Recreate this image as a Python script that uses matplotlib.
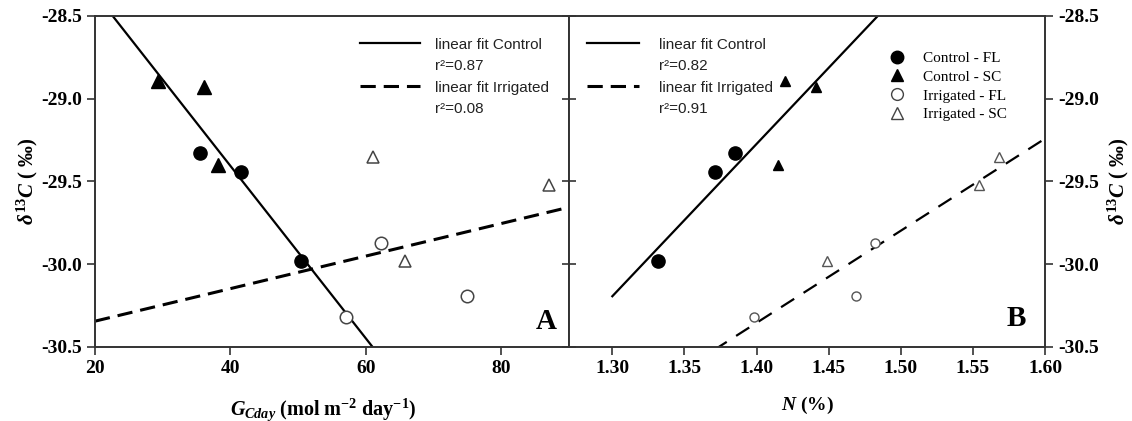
import numpy as np
import matplotlib
matplotlib.use("Agg")
import matplotlib.pyplot as plt
from matplotlib.lines import Line2D

plt.rcParams['font.family'] = ['Liberation Serif', 'DejaVu Serif']
plt.rcParams['mathtext.fontset'] = 'custom'
plt.rcParams['mathtext.rm'] = 'Liberation Serif:bold'
plt.rcParams['mathtext.it'] = 'Liberation Serif:bold:italic'
plt.rcParams['mathtext.bf'] = 'Liberation Serif:bold'

# delta13C per sample group, shared by both panels
ctrl_fl_d13c = [-29.33, -29.44, -29.98]
ctrl_sc_d13c = [-28.89, -28.93, -29.40]
irr_fl_d13c = [-30.32, -29.87, -30.19]
irr_sc_d13c = [-29.35, -29.98, -29.52]

# panel A: G_Cday
ctrl_fl_g = [35.5, 41.6, 50.4]
ctrl_sc_g = [29.3, 36.1, 38.2]
irr_fl_g = [57.0, 62.3, 74.9]
irr_sc_g = [61.1, 65.8, 87.1]

# panel B: N (%)
ctrl_fl_n = [1.385, 1.371, 1.332]
ctrl_sc_n = [1.420, 1.441, 1.415]
irr_fl_n = [1.398, 1.482, 1.469]
irr_sc_n = [1.568, 1.449, 1.554]

r2_a = ["0.87", "0.08"]
r2_b = ["0.82", "0.91"]

yticks = [-28.5, -29.0, -29.5, -30.0, -30.5]
SPINE = '#333333'
SANS = ['Liberation Sans', 'DejaVu Sans']


def fit(xs, ys, xr):
    k, b = np.polyfit(xs, ys, 1)
    xr = np.asarray(xr)
    return xr, k * xr + b


def style(ax):
    for s in ax.spines.values():
        s.set_color(SPINE); s.set_linewidth(1.4)
    ax.set_ylim(-30.5, -28.5)
    ax.set_yticks(yticks)
    ax.set_yticklabels([f"{t:.1f}" for t in yticks], fontsize=14, fontweight='bold')
    ax.tick_params(axis='both', direction='out', length=6, width=1.2, color=SPINE, top=False)
    for lb in ax.get_xticklabels():
        lb.set_fontweight('bold'); lb.set_fontsize(14)


def line_legend(ax, x0, r2, hl, pad):
    hs = [Line2D([], [], color='k', lw=1.6),
          Line2D([], [], color='none'),
          Line2D([], [], color='k', lw=2.2, ls=(0, (5, 2.6))),
          Line2D([], [], color='none')]
    labs = ["linear fit Control", "r²=" + r2[0], "linear fit Irrigated", "r²=" + r2[1]]
    leg = ax.legend(hs, labs, loc='upper left', bbox_to_anchor=(x0, 0.935), frameon=False,
                    borderpad=0, borderaxespad=0, handlelength=hl, handletextpad=pad,
                    labelspacing=0.5, prop={'family': SANS, 'size': 11})
    for t in leg.get_texts():
        t.set_color('#222222')
    return leg


fig = plt.figure(figsize=(11.32, 4.21), dpi=100)
axA = fig.add_axes([0.0839, 0.1758, 0.4187, 0.7862])
axB = fig.add_axes([0.5027, 0.1758, 0.4205, 0.7862])

# ---- panel A
xa = [20, 90]
axA.plot(*fit(ctrl_fl_g + ctrl_sc_g, ctrl_fl_d13c + ctrl_sc_d13c, xa), color='k', lw=1.6)
axA.plot(*fit(irr_fl_g + irr_sc_g, irr_fl_d13c + irr_sc_d13c, xa), color='k', lw=2.2, ls=(0, (5, 2.6)))
axA.plot(ctrl_fl_g, ctrl_fl_d13c, 'o', ms=9.5, color='k', ls='none')
axA.plot(ctrl_sc_g, ctrl_sc_d13c, '^', ms=9.5, color='k', ls='none')
axA.plot(irr_fl_g, irr_fl_d13c, 'o', ms=9, mfc='white', mec='#444444', mew=1.1, ls='none')
axA.plot(irr_sc_g, irr_sc_d13c, '^', ms=9, mfc='white', mec='#444444', mew=1.1, ls='none')
axA.set_xlim(20, 90)
axA.set_xticks([20, 40, 60, 80])
style(axA)
axA.tick_params(axis='y', right=False)
axA.set_xlabel(r"$G_{Cday}$ (mol m$^{-2}$ day$^{-1}$)", fontsize=14.5, fontweight='bold')
axA.xaxis.set_label_coords(0.482, -0.148)
axA.set_ylabel(r"$\delta^{13}C$ ( ‰)", fontsize=15, fontweight='bold')
axA.yaxis.set_label_coords(-0.115, 0.5)
axA.text(0.975, 0.035, "A", transform=axA.transAxes, ha='right', va='bottom', fontsize=21, fontweight='bold')
line_legend(axA, 0.559, r2_a, 3.9, 1.0)

# crossing ticks on the shared middle spine
axM = axA.twinx()
axM.set_ylim(-30.5, -28.5)
axM.set_yticks(yticks)
axM.tick_params(axis='y', direction='inout', length=10, width=1.2, color=SPINE, labelright=False)
axM.spines[:].set_visible(False)

# ---- panel B
xb_c = [1.30, 1.60]
xb_i = [1.27, 1.60]
axB.plot(*fit(ctrl_fl_n + ctrl_sc_n, ctrl_fl_d13c + ctrl_sc_d13c, xb_c), color='k', lw=1.6)
axB.plot(*fit(irr_fl_n + irr_sc_n, irr_fl_d13c + irr_sc_d13c, xb_i), color='k', lw=1.6, ls=(0, (7, 5)))
axB.plot(ctrl_fl_n, ctrl_fl_d13c, 'o', ms=9.5, color='k', ls='none')
axB.plot(ctrl_sc_n, ctrl_sc_d13c, '^', ms=6.5, color='k', ls='none')
axB.plot(irr_fl_n, irr_fl_d13c, 'o', ms=6.5, mfc='white', mec='#555555', mew=1.0, ls='none')
axB.plot(irr_sc_n, irr_sc_d13c, '^', ms=6.5, mfc='white', mec='#555555', mew=1.0, ls='none')
axB.set_xlim(1.27, 1.60)
xt_b = [1.30, 1.35, 1.40, 1.45, 1.50, 1.55, 1.60]
axB.set_xticks(xt_b)
axB.set_xticklabels([f"{t:.2f}" for t in xt_b])
style(axB)
axB.yaxis.tick_right()
axB.yaxis.set_label_position('right')
axB.tick_params(axis='y', left=False, right=True)
axB.set_xlabel(r"$N$ (%)", fontsize=14, fontweight='bold')
axB.xaxis.set_label_coords(0.5, -0.145)
axB.set_ylabel(r"$\delta^{13}C$ ( ‰)", fontsize=15, fontweight='bold', rotation=90)
axB.yaxis.set_label_coords(1.128, 0.5)
axB.text(0.96, 0.045, "B", transform=axB.transAxes, ha='right', va='bottom', fontsize=21, fontweight='bold')
leg1 = line_legend(axB, 0.038, r2_b, 3.4, 1.3)
axB.add_artist(leg1)

mh = [Line2D([], [], marker='o', ms=9, color='k', ls='none'),
      Line2D([], [], marker='^', ms=8.5, color='k', ls='none'),
      Line2D([], [], marker='o', ms=8.5, mfc='white', mec='#444444', ls='none'),
      Line2D([], [], marker='^', ms=8.5, mfc='white', mec='#444444', ls='none')]
axB.legend(mh, ["Control - FL", "Control - SC", "Irrigated - FL", "Irrigated - SC"],
           loc='upper left', bbox_to_anchor=(0.672, 0.893), frameon=False, numpoints=1,
           borderpad=0, borderaxespad=0, handlelength=1.0, handletextpad=1.2,
           labelspacing=0.33, prop={'size': 11})

fig.savefig("out.png", dpi=100)
